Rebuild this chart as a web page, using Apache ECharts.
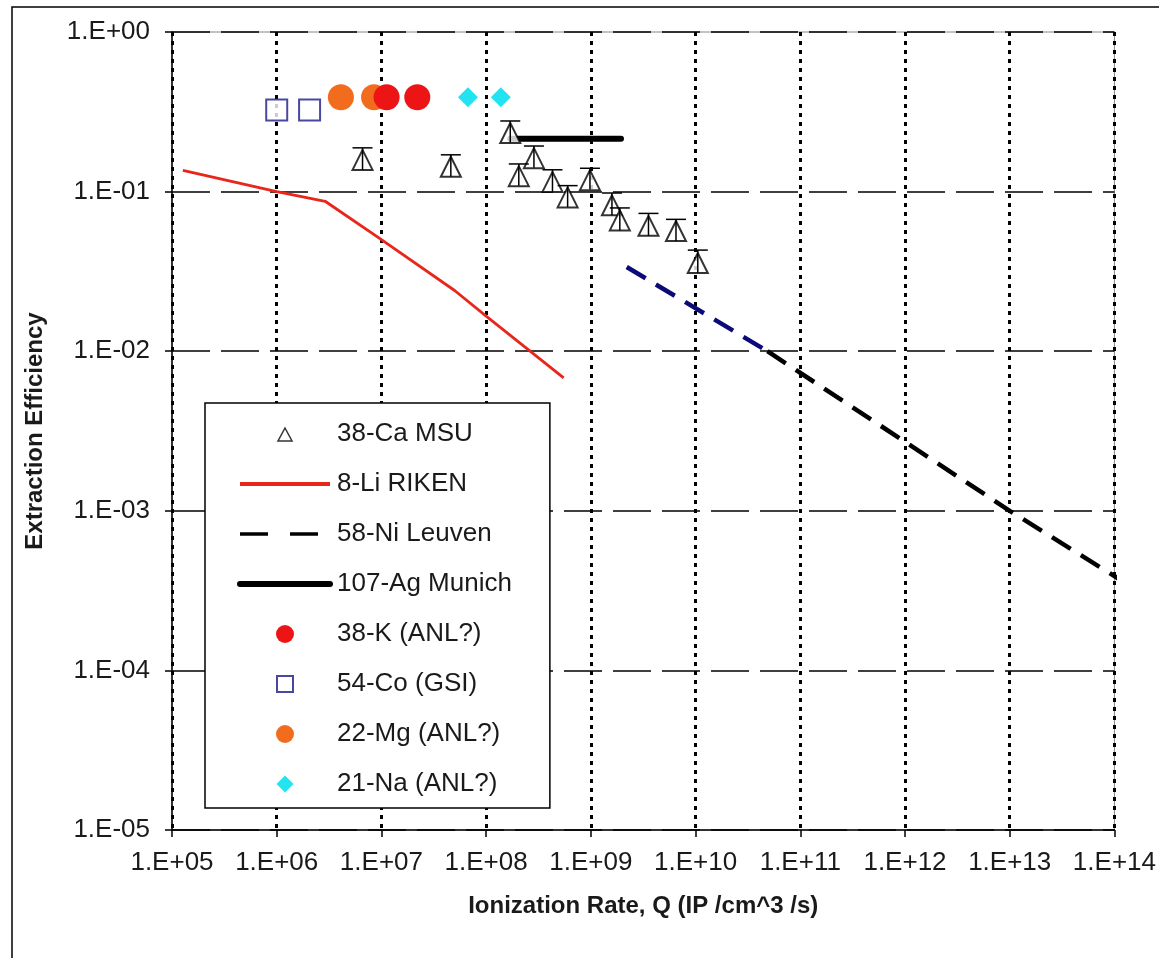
<!DOCTYPE html>
<html>
<head>
<meta charset="utf-8">
<script src="https://cdn.jsdelivr.net/npm/echarts@6/dist/echarts.min.js"></script>
<style>
html, body { margin: 0; padding: 0; background: #fff; }
#main { width: 1159px; height: 958px; }
</style>
</head>
<body>
<div id="main"></div>
<script>
// tick labels (Excel style)
var xTickLabels = ['1.E+05', '1.E+06', '1.E+07', '1.E+08', '1.E+09', '1.E+10', '1.E+11', '1.E+12', '1.E+13', '1.E+14'];
var yTickLabels = ['1.E-05', '1.E-04', '1.E-03', '1.E-02', '1.E-01', '1.E+00'];

// 38-Ca MSU : rate, efficiency, error low, error high
var caRate = [6.6e6, 4.6e7, 1.7e8, 2.05e8, 2.86e8, 4.3e8, 6.0e8, 9.8e8, 1.59e9, 1.89e9, 3.55e9, 6.5e9, 1.05e10];
var caEff  = [0.158, 0.143, 0.233, 0.125, 0.162, 0.115, 0.092, 0.118, 0.082, 0.066, 0.061, 0.0566, 0.0357];
var caLow  = [0.137, 0.124, 0.203, 0.109, 0.141, 0.100, 0.080, 0.103, 0.071, 0.057, 0.053, 0.049, 0.031];
var caHigh = [0.188, 0.170, 0.277, 0.149, 0.193, 0.137, 0.109, 0.140, 0.098, 0.079, 0.073, 0.067, 0.043];

// 8-Li RIKEN
var liRate = [1.27e5, 1e6, 2.9e6, 1e7, 5e7, 1e8, 5.5e8];
var liEff  = [0.136, 0.1, 0.087, 0.05, 0.024, 0.0166, 0.0068];

// 58-Ni Leuven (blue part, then black part)
var niBlueRate = [2.2e9, 4.85e10];
var niBlueEff  = [0.0337, 0.01];
var niRate = [4.85e10, 1e13, 1.3e14];
var niEff  = [0.01, 0.001, 0.00035];

// 107-Ag Munich
var agRate = [1.7e8, 1.94e9];
var agEff  = [0.214, 0.214];

// 38-K
var kRate = [1.12e7, 2.2e7];
var kEff  = [0.39, 0.39];
// 54-Co
var coRate = [1e6, 2.06e6];
var coEff  = [0.325, 0.325];
// 22-Mg
var mgRate = [4.1e6, 8.5e6];
var mgEff  = [0.39, 0.39];
// 21-Na
var naRate = [6.7e7, 1.38e8];
var naEff  = [0.39, 0.39];

function pairs(xs, ys) {
	var out = [];
	for (var i = 0; i < xs.length; i++) out.push([xs[i], ys[i]]);
	return out;
}

var errData = [];
for (var i = 0; i < caRate.length; i++) errData.push([caRate[i], caLow[i], caHigh[i]]);

function renderErr(params, api) {
	var x = api.value(0);
	var pHi = api.coord([x, api.value(2)]);
	var pLo = api.coord([x, api.value(1)]);
	var st = { stroke: '#000', lineWidth: 1.5 };
	return {
		type: 'group',
		children: [
			{ type: 'line', shape: { x1: pHi[0], y1: pHi[1], x2: pLo[0], y2: pLo[1] }, style: st },
			{ type: 'line', shape: { x1: pHi[0] - 10, y1: pHi[1], x2: pHi[0] + 10, y2: pHi[1] }, style: st }
		]
	};
}

var font = 'Liberation Sans, Arial, sans-serif';
var txt = '#1a1a1a';
var hide = { opacity: 0 };

// legend icons: the leading moves keep some blank room round the shape
var iconTri = 'path://M0,0 M18,18 M9,3 L16,16 L2,16 Z';
var iconSq = 'path://M0,0 M18,18 M1,1 L17,1 L17,17 L1,17 Z';
var iconDia = 'path://M0,0 M18,18 M9,0.5 L17.5,9 L9,17.5 L0.5,9 Z';

var myChart = echarts.init(document.getElementById('main'));
var option = {
	backgroundColor: '#fff',
	animation: false,
	textStyle: { fontFamily: font },
	graphic: [{
		type: 'rect', z: -1,
		shape: { x: 12, y: 7, width: 1160, height: 960 },
		style: { fill: 'none', stroke: '#000', lineWidth: 1.5 }
	}],
	grid: {
		left: 172, right: 42, top: 32, bottom: 128,
		show: true, borderColor: '#888', borderWidth: 1
	},
	legend: {
		orient: 'vertical',
		left: 205, top: 403,
		padding: [18, 38, 11, 32],
		backgroundColor: '#fff',
		borderColor: '#000',
		borderWidth: 1.5,
		itemWidth: 90,
		itemHeight: 18,
		itemGap: 24,
		symbolKeepAspect: true,
		textStyle: { fontSize: 26, lineHeight: 26, color: txt, fontFamily: font, padding: [0, 0, 0, 2] },
		data: [
			{ name: '38-Ca MSU', icon: iconTri, itemStyle: { color: '#fff', borderColor: '#000', borderWidth: 1.5 } },
			{ name: '8-Li RIKEN', itemStyle: hide, lineStyle: { width: 4 } },
			{ name: '58-Ni Leuven', itemStyle: hide, lineStyle: { width: 3.5, type: [28, 22] } },
			{ name: '107-Ag Munich', itemStyle: hide, lineStyle: { width: 6 } },
			{ name: '38-K (ANL?)', icon: 'circle' },
			{ name: '54-Co (GSI)', icon: iconSq, itemStyle: { color: '#fff', borderColor: '#1a1a8a', borderWidth: 2 } },
			{ name: '22-Mg (ANL?)', icon: 'circle' },
			{ name: '21-Na (ANL?)', icon: iconDia }
		]
	},
	xAxis: {
		type: 'log', logBase: 10, min: 1e5, max: 1e14, interval: 1,
		name: 'Ionization Rate, Q (IP /cm^3 /s)',
		nameLocation: 'middle', nameGap: 64,
		nameTextStyle: { fontSize: 24, fontWeight: 'bold', color: txt, fontFamily: font },
		axisLine: { lineStyle: { color: '#000', width: 1.5 } },
		axisTick: { length: 7, lineStyle: { color: '#000', width: 1.5 } },
		axisLabel: {
			fontSize: 26, color: txt, margin: 20, fontFamily: font,
			formatter: function (v) { return xTickLabels[Math.round(Math.log10(v)) - 5]; }
		},
		splitLine: { show: true, lineStyle: { color: '#000', width: 3, type: [4, 5] } },
		minorTick: { show: false }
	},
	yAxis: {
		type: 'log', logBase: 10, min: 1e-5, max: 1, interval: 1,
		name: 'Extraction Efficiency',
		nameLocation: 'middle', nameGap: 125,
		nameTextStyle: { fontSize: 24, fontWeight: 'bold', color: txt, fontFamily: font },
		axisLine: { lineStyle: { color: '#000', width: 1.5 } },
		axisTick: { length: 7, lineStyle: { color: '#000', width: 1.5 } },
		axisLabel: {
			fontSize: 26, color: txt, margin: 22, fontFamily: font,
			formatter: function (v) { return yTickLabels[Math.round(Math.log10(v)) + 5]; }
		},
		splitLine: { show: true, lineStyle: { color: '#000', width: 1.5, type: [38, 11] } }
	},
	series: [
		{
			name: '8-Li RIKEN', type: 'line', symbol: 'none',
			data: pairs(liRate, liEff),
			lineStyle: { color: '#e8261c', width: 2.8 },
			itemStyle: { color: '#e8261c' }
		},
		{
			name: '58-Ni Leuven (low)', type: 'line', symbol: 'none',
			data: pairs(niBlueRate, niBlueEff),
			lineStyle: { color: '#0a0a78', width: 4.5, type: [22, 12] },
			itemStyle: { color: '#0a0a78' }
		},
		{
			name: '58-Ni Leuven', type: 'line', symbol: 'none', clip: false,
			data: pairs(niRate, niEff),
			lineStyle: { color: '#000', width: 4.5, type: [22, 12] },
			itemStyle: { color: '#000' }
		},
		{
			name: '107-Ag Munich', type: 'line', symbol: 'none',
			data: pairs(agRate, agEff),
			lineStyle: { color: '#000', width: 6, cap: 'round' },
			itemStyle: { color: '#000' }
		},
		{
			name: '38-Ca MSU', type: 'scatter', symbol: 'emptyTriangle', symbolSize: [20, 20],
			data: pairs(caRate, caEff),
			itemStyle: { color: '#000', borderColor: '#000', borderWidth: 1.5 },
			z: 3
		},
		{
			name: '38-Ca MSU err', type: 'custom', renderItem: renderErr,
			data: errData, encode: { x: 0, y: [1, 2] }, z: 4
		},
		{
			name: '54-Co (GSI)', type: 'scatter', symbol: 'emptyRect', symbolSize: 21,
			data: pairs(coRate, coEff),
			itemStyle: { color: '#1a1a8a', borderColor: '#1a1a8a', borderWidth: 2 }
		},
		{
			name: '22-Mg (ANL?)', type: 'scatter', symbol: 'circle', symbolSize: 26,
			data: pairs(mgRate, mgEff),
			itemStyle: { color: '#f26c1e', opacity: 1 }
		},
		{
			name: '38-K (ANL?)', type: 'scatter', symbol: 'circle', symbolSize: 26,
			data: pairs(kRate, kEff),
			itemStyle: { color: '#ec1414', opacity: 1 }
		},
		{
			name: '21-Na (ANL?)', type: 'scatter', symbol: 'diamond', symbolSize: 20,
			data: pairs(naRate, naEff),
			itemStyle: { color: '#22e4f0', opacity: 1 }
		}
	]
};
myChart.setOption(option);
</script>
</body>
</html>
